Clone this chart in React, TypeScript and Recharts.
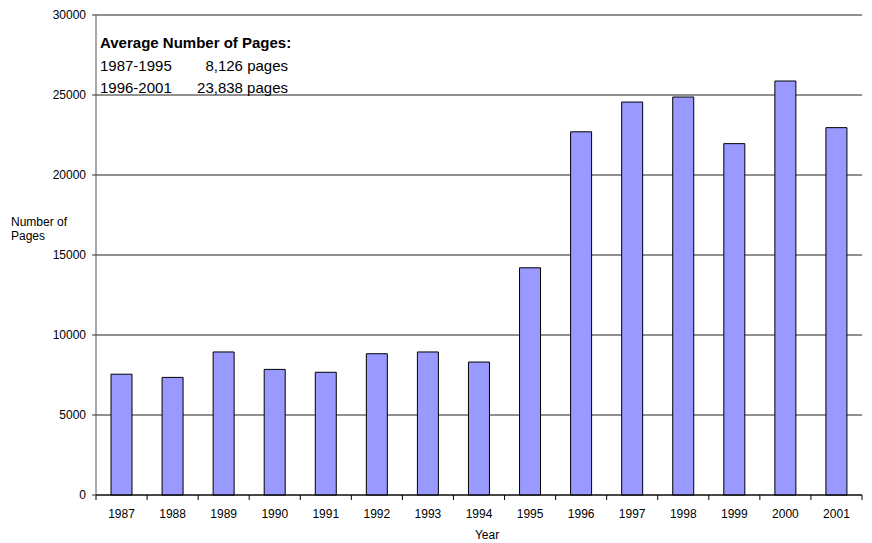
import { BarChart, Bar, XAxis, YAxis, CartesianGrid } from "recharts";

const years = [
  "1987", "1988", "1989", "1990", "1991", "1992", "1993", "1994",
  "1995", "1996", "1997", "1998", "1999", "2000", "2001",
];
const pages = [
  7550, 7350, 8940, 7850, 7670, 8830, 8940, 8310,
  14200, 22700, 24560, 24875, 21960, 25875, 22960,
];
const yTicks = [0, 5000, 10000, 15000, 20000, 25000, 30000];
const averagePeriods = ["1987-1995", "1996-2001"];
const averagePages = ["8,126 pages", "23,838 pages"];

const chartData = years.map((year, i) => ({ year, pages: pages[i] }));

const W = 872;
const H = 543;
const LEFT = 96;
const RIGHT = 10;
const FONT = '"Liberation Sans", Arial, Helvetica, sans-serif';
const CAT_W = (W - LEFT - RIGHT) / years.length;

interface TickProps { x?: number; y?: number; index?: number; payload?: { value: string }; }

// year label under the bar, tick marks sit on the category boundaries
const YearTick = ({ x = 0, y = 0, index = 0, payload }: TickProps) => (
  <g>
    <line x1={x - CAT_W / 2} x2={x - CAT_W / 2} y1={y} y2={y + 5} stroke="#000" />
    {index === years.length - 1 && (
      <line x1={x + CAT_W / 2} x2={x + CAT_W / 2} y1={y} y2={y + 5} stroke="#000" />
    )}
    <text x={x} y={y + 23} textAnchor="middle" fontSize={12} fill="#000" fontFamily={FONT}>
      {payload?.value}
    </text>
  </g>
);

const abs = (left: number, top: number, extra: React.CSSProperties = {}): React.CSSProperties => ({
  position: "absolute",
  left,
  top,
  whiteSpace: "nowrap",
  color: "#000",
  ...extra,
});

export default function App() {
  return (
    <div style={{ position: "absolute", left: 0, top: 0, width: W, height: H, background: "#fff", fontFamily: FONT }}>
      <BarChart
        width={W}
        height={H}
        data={chartData}
        margin={{ top: 15, right: RIGHT, left: 0, bottom: 0 }}
      >
        <CartesianGrid vertical={false} stroke="#222" />
        <XAxis
          dataKey="year"
          height={48}
          tickLine={false}
          tickSize={0}
          tickMargin={0}
          interval={0}
          axisLine={{ stroke: "#000" }}
          tick={<YearTick />}
        />
        <YAxis
          width={LEFT}
          domain={[0, 30000]}
          ticks={yTicks}
          interval={0}
          tickSize={4}
          tickMargin={6}
          axisLine={{ stroke: "#555" }}
          tickLine={{ stroke: "#333" }}
          tick={{ fontSize: 12, fill: "#000", fontFamily: FONT }}
        />
        <Bar
          dataKey="pages"
          fill="#9999FF"
          stroke="#000"
          strokeWidth={1}
          barSize={21}
          isAnimationActive={false}
        />
      </BarChart>

      <div style={abs(100, 34, { fontSize: 15, lineHeight: "18px", fontWeight: "bold" })}>
        Average Number of Pages:
      </div>
      {averagePeriods.map((period, i) => (
        <div key={period}>
          <div style={abs(100, 57 + i * 22, { fontSize: 15, lineHeight: "18px" })}>{period}</div>
          <div style={abs(100, 57 + i * 22, { fontSize: 15, lineHeight: "18px", width: 188, textAlign: "right" })}>
            {averagePages[i]}
          </div>
        </div>
      ))}

      <div style={abs(11, 215, { fontSize: 12, lineHeight: "14px" })}>
        Number of
        <br />
        Pages
      </div>
      <div style={abs(487, 528, { fontSize: 12, lineHeight: "14px", transform: "translateX(-50%)" })}>
        Year
      </div>
    </div>
  );
}
